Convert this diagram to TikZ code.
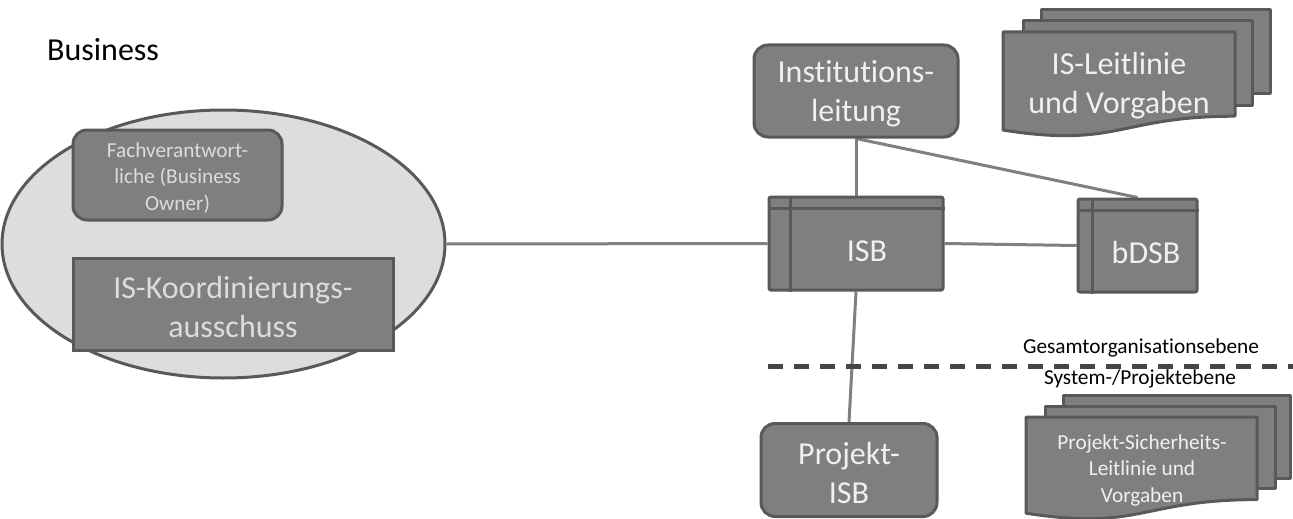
\documentclass[tikz,border=0pt]{standalone}
\usepackage{fontspec}
\setmainfont[Ligatures=NoCommon]{Carlito}
\usetikzlibrary{shapes.geometric,calc}
\definecolor{boxfill}{HTML}{7F7F7F}
\definecolor{boxline}{HTML}{595959}
\definecolor{ellfill}{HTML}{DDDDDD}
\definecolor{conn}{HTML}{808080}
\definecolor{txtlight}{HTML}{F0F0F0}
\definecolor{txtdim}{HTML}{DCDCDC}
\definecolor{dashc}{HTML}{454545}
\pgfdeclarelayer{bg}
\pgfsetlayers{bg,main}
\newcommand\docpage[4]{%
  \filldraw[docst] (#1,#2) -- (#3,#2) -- (#3,{#2+0.802*#4})
    .. controls ({(#1+#3)/2},{#2+0.802*#4}) and ({(#1+#3)/2},{#2+1.1075*#4}) .. (#1,{#2+0.934*#4}) -- cycle;}
\tikzset{
  boxst/.style={draw=boxline, fill=boxfill, line width=3pt, inner sep=0pt, align=center},
  rbox/.style={boxst, rounded corners=14pt},
  bigtxt/.style={font=\fontsize{32}{39}\selectfont, text=txtlight},
  smalltxt/.style={font=\fontsize{21.3}{26.5}\selectfont, text=txtdim},
  docst/.style={draw=boxline, fill=boxfill, line width=3pt, line join=round},
  connst/.style={draw=conn, line width=3pt},
  dashline/.style={draw=dashc, line width=5pt, dash pattern=on 15pt off 11pt},
  plaintxt/.style={font=\fontsize{21.3}{26}\selectfont, text=black, inner sep=0pt}
}
\begin{document}
\begin{tikzpicture}[x=1pt,y=-1pt]
\useasboundingbox (0,0) rectangle (1293,519);

% Business area
\node[font=\fontsize{32}{39}\selectfont, text=black, inner sep=0pt, anchor=base west] (biztitle) at (47,61) {Business};
\node[ellipse, draw=boxline, fill=ellfill, line width=3pt, minimum width=443pt, minimum height=268pt, inner sep=0pt] (biz) at (223.5,244) {};
\node[rbox, minimum width=209pt, minimum height=90pt] (fach) at (177.5,175) {};
\node[smalltxt, align=center, inner sep=0pt] (fachtxt) at ($(fach.center)+(0,3)$) {Fachverantwort-\\liche (Business\\Owner)};
\node[boxst, minimum width=320pt, minimum height=92pt] (kord) at (233,304) {};
\node[font=\fontsize{32}{39}\selectfont, text=txtdim, align=center, inner sep=0pt] (kordtxt) at ($(kord.center)+(0,3)$) {IS-Koordinierungs-\\ausschuss};

% Institutionsleitung
\node[rbox, minimum width=204pt, minimum height=92pt] (inst) at (856,91) {};
\node[bigtxt, align=center, inner sep=0pt] (insttxt) at ($(inst.center)+(0,3)$) {Institutions-\\leitung};

% ISB
\node[boxst, rounded corners=2pt, minimum width=174pt, minimum height=93pt] (isb) at (856,243.5) {};
\draw[draw=boxline, line width=3pt] ($(isb.north west)+(0,13)$) -- ($(isb.north east)+(0,13)$);
\draw[draw=boxline, line width=3pt] ($(isb.north west)+(23,0)$) -- ($(isb.south west)+(23,0)$);
\node[bigtxt, inner sep=0pt] (isbtxt) at ($(isb.center)+(11,8)$) {ISB};

% bDSB
\node[boxst, rounded corners=2pt, minimum width=119pt, minimum height=93pt] (bdsb) at (1137.5,245.5) {};
\draw[draw=boxline, line width=3pt] ($(bdsb.north west)+(0,13)$) -- ($(bdsb.north east)+(0,13)$);
\draw[draw=boxline, line width=3pt] ($(bdsb.north west)+(16,0)$) -- ($(bdsb.south west)+(16,0)$);
\node[bigtxt, inner sep=0pt] (bdsbtxt) at ($(bdsb.center)+(8.5,7)$) {bDSB};

% Projekt-ISB
\node[rbox, minimum width=176pt, minimum height=93pt] (pisb) at (849,470) {};
\node[bigtxt, align=center, inner sep=0pt] (pisbtxt) at ($(pisb.center)+(0,3)$) {Projekt-\\ISB};

% IS-Leitlinie stack
\filldraw[docst] (1041,10) rectangle (1270,93);
\filldraw[docst] (1023,21) rectangle (1252,105);
\docpage{1003}{32}{1235}{105}
\node[bigtxt, align=center, inner sep=0pt] (islt) at (1119,86) {IS-Leitlinie\\und Vorgaben};

% Projekt stack
\filldraw[docst] (1063,395) rectangle (1290,478);
\filldraw[docst] (1045,406) rectangle (1275,488);
\docpage{1026}{417}{1257}{103}
\node[smalltxt, text=txtlight, align=center, inner sep=0pt] (plt) at (1142,470) {Projekt-Sicherheits-\\Leitlinie und\\Vorgaben};

% level separator
\coordinate (sepL) at (768,366);
\coordinate (sepR) at (1293,366);
\draw[dashline] (sepL) -- (sepR);
\node[plaintxt, anchor=base] (ges) at (1141,353) {Gesamtorganisationsebene};
\node[plaintxt, anchor=base] (sys) at (1140,384) {System-/Projektebene};

% connectors
\begin{pgfonlayer}{bg}
\draw[connst] (biz.east) -- (isb.west);
\draw[connst] (inst.south) -- (isb.north);
\draw[connst] (inst.south) -- (bdsb.north);
\draw[connst] (isb.east) -- (bdsb.west);
\draw[connst] (isb.south) -- (pisb.north);
\end{pgfonlayer}
\end{tikzpicture}
\end{document}
